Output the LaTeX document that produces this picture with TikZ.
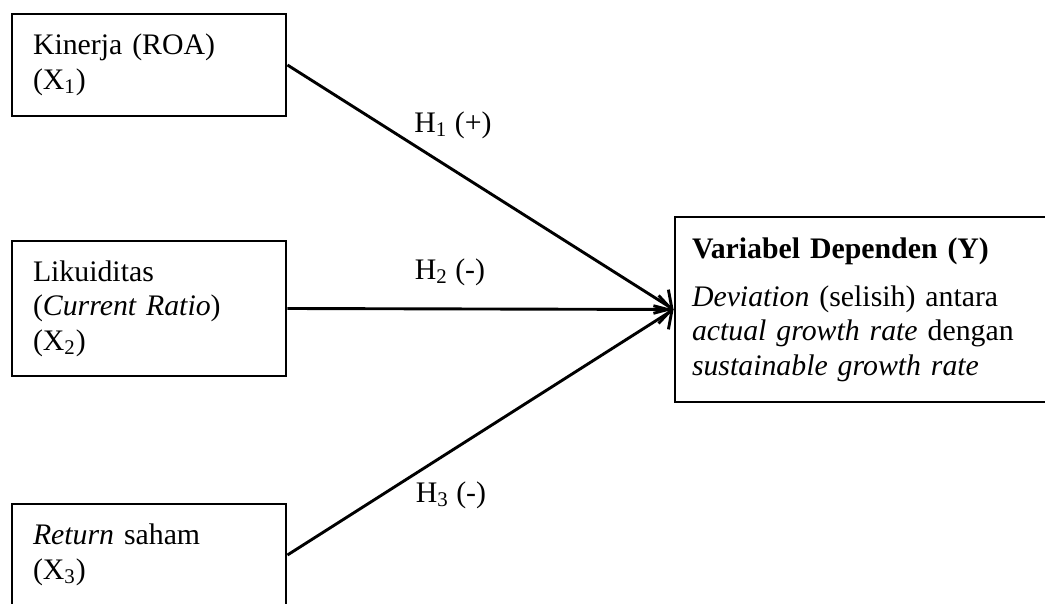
\documentclass[tikz,border=0pt]{standalone}
\usepackage{fontspec}
\setmainfont{Liberation Serif}
\usetikzlibrary{arrows.meta,positioning}
\tikzset{
    x=0.5pt, y=-0.5pt, % one unit is one pixel of the reference
    varbox/.style={draw, line width=1.45pt, align=left, inner xsep=10.5pt,
        text width=116pt, minimum height=51pt}, % the three boxes on the left
    depbox/.style={draw, line width=1.45pt, align=left, inner xsep=8.5pt,
        text width=178pt, minimum height=92.5pt}, % the box on the right
    hyp/.style={-{Straight Barb[length=6.5pt,width=14pt,line width=1.45pt]}, line width=1.45pt},
}

\begin{document}
\begin{tikzpicture}[font=\fontsize{14.9}{17.2}\selectfont]
  \clip (0,0) rectangle (1045,604);
  \fill[white] (0,0) rectangle (1045,604);

  % independent variables
  \node[varbox] (x1) at (149,65) {Kinerja (ROA)\\(X\textsubscript{1})};
  \node[varbox, minimum height=67.5pt] (x2) at (149,308.5)
      {Likuiditas\\(\textit{Current Ratio})\\(X\textsubscript{2})};
  \node[varbox] (x3) at (149,555) {\textit{Return} saham\\(X\textsubscript{3})};

  % dependent variable
  \node[depbox] (y) at (870,309.5)
      {\textbf{Variabel Dependen (Y)}\\[7pt]
       \textit{Deviation} (selisih) antara\\
       \textit{actual growth rate} dengan\\
       \textit{sustainable growth rate}};

  % hypotheses
  \node (h1) at (453,125) {H\textsubscript{1} (+)};
  \node (h2) at (450,272) {H\textsubscript{2} (-)};
  \node (h3) at (451,495) {H\textsubscript{3} (-)};

  \path[hyp]
    (x1.east) edge (y.west)
    (x2.east) edge (y.west)
    (x3.east) edge (y.west);
\end{tikzpicture}
\end{document}
